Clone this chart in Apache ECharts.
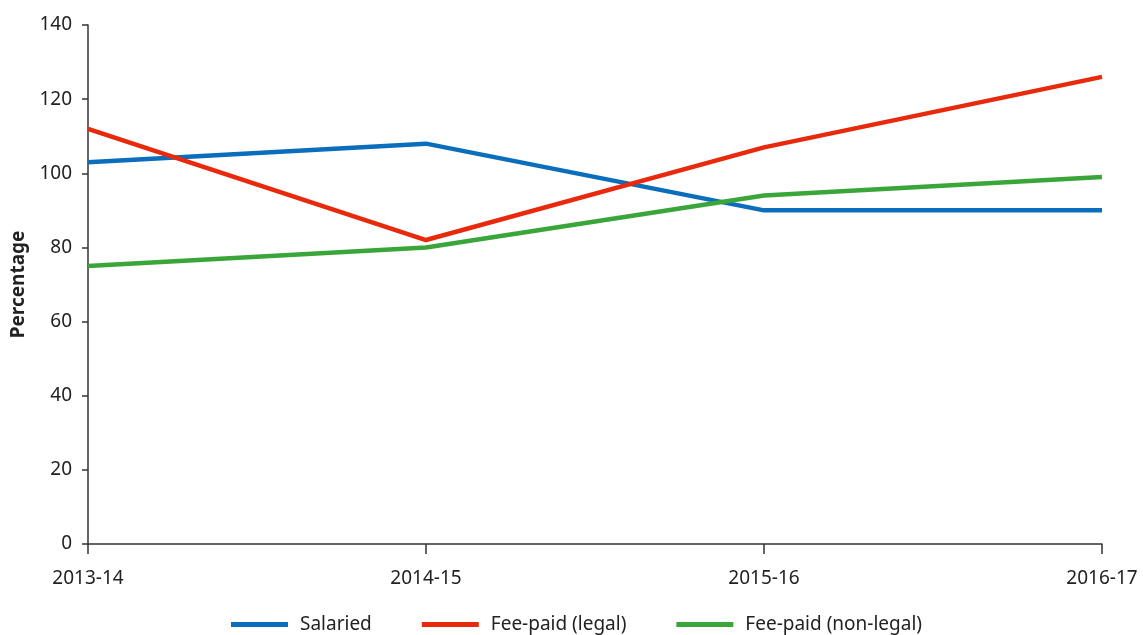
<!DOCTYPE html>
<html>
<head>
<meta charset="utf-8">
<script src="https://cdn.jsdelivr.net/npm/echarts@6/dist/echarts.min.js"></script>
<style>
  html, body { margin: 0; padding: 0; background: #fff; }
  #chart { width: 1143px; height: 635px; }
</style>
</head>
<body>
<div id="chart"></div>
<script>
// years on the x axis
const years = ['2013-14', '2014-15', '2015-16', '2016-17'];
// series values (percentage)
const salaried = [103, 108, 90, 90];
const feePaidLegal = [112, 82, 107, 126];
const feePaidNonLegal = [75, 80, 94, 99];

const chart = echarts.init(document.getElementById('chart'));
const font = 'Noto Sans';
const axisColor = '#333';

chart.setOption({
  animation: false,
  textStyle: { fontFamily: font },
  grid: { left: 88, right: 41, top: 25, bottom: 91, outerBoundsMode: 'none' },
  legend: {
    top: 610,
    left: 226,
    itemWidth: 57,
    itemHeight: 5,
    itemGap: 50,
    icon: 'rect',
    textStyle: { fontSize: 19, color: '#222', fontFamily: font, padding: [0, 0, 0, 7] },
    data: ['Salaried', 'Fee-paid (legal)', 'Fee-paid (non-legal)']
  },
  xAxis: {
    type: 'category',
    data: years,
    boundaryGap: false,
    axisLine: { lineStyle: { color: axisColor, width: 1.5 } },
    axisTick: { show: true, length: 10, lineStyle: { color: axisColor, width: 1.5 } },
    axisLabel: { color: '#222', fontSize: 19, margin: 25, fontFamily: font }
  },
  yAxis: {
    type: 'value',
    min: 0,
    max: 140,
    interval: 20,
    name: 'Percentage',
    nameLocation: 'middle',
    nameGap: 59,
    nameTextStyle: { fontWeight: 'bold', fontSize: 19, color: '#222', fontFamily: font },
    splitLine: { show: false },
    axisLine: { show: true, lineStyle: { color: axisColor, width: 1.5 } },
    axisTick: { show: true, length: 6, lineStyle: { color: axisColor, width: 1.5 } },
    axisLabel: { color: '#222', fontSize: 19, margin: 16, fontFamily: font }
  },
  series: [
    {
      name: 'Salaried',
      type: 'line',
      data: salaried,
      symbol: 'none',
      color: '#0a6ebd',
      lineStyle: { width: 4.5 }
    },
    {
      name: 'Fee-paid (legal)',
      type: 'line',
      data: feePaidLegal,
      symbol: 'none',
      color: '#e8290c',
      lineStyle: { width: 4.5 }
    },
    {
      name: 'Fee-paid (non-legal)',
      type: 'line',
      data: feePaidNonLegal,
      symbol: 'none',
      color: '#3aa63a',
      lineStyle: { width: 4.5 }
    }
  ]
});
</script>
</body>
</html>
